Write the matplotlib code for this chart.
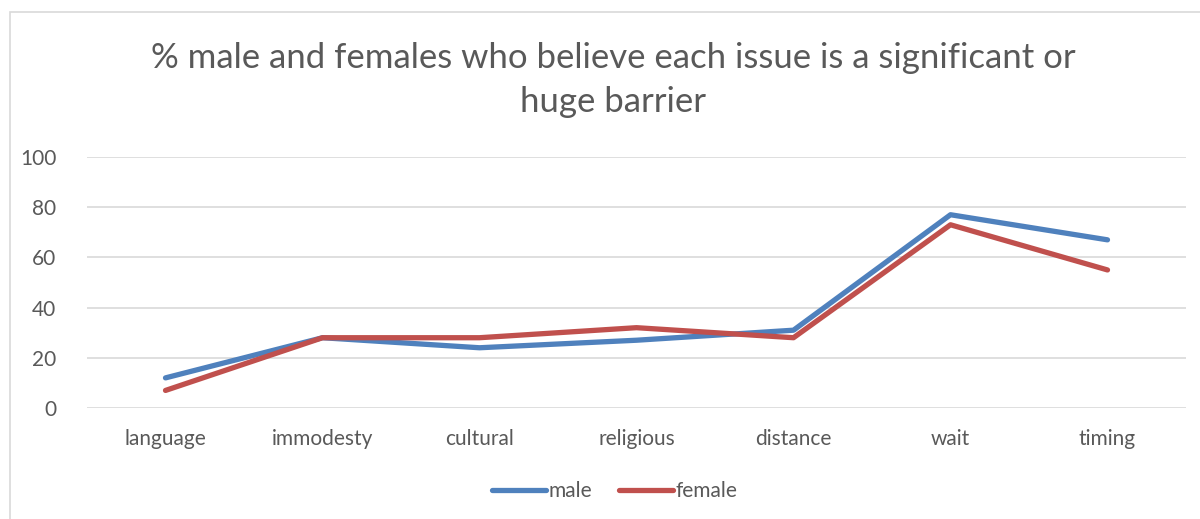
import matplotlib
matplotlib.use("Agg")
import matplotlib.pyplot as plt
from matplotlib.patches import Rectangle

categories = ["language", "immodesty", "cultural", "religious", "distance", "wait", "timing"]
male = [12, 28, 24, 27, 31, 77, 67]
female = [7, 28, 28, 32, 28, 73, 55]
y_ticks = [0, 20, 40, 60, 80, 100]

TEXT = "#595959"
GRID = "#d9d9d9"
plt.rcParams["font.family"] = ["Lato", "DejaVu Sans"]

fig = plt.figure(figsize=(12, 5.19), dpi=100)
fig.patches.append(Rectangle((10 / 1200, -0.1), 1.2, 1 - 12 / 519 + 0.1,
                             transform=fig.transFigure, fill=False,
                             edgecolor=GRID, linewidth=1.2))

ax = fig.add_axes([87 / 1200, 1 - 408 / 519, (1186 - 87) / 1200, (408 - 157) / 519])
x = range(len(categories))
ax.plot(x, male, color="#4f81bd", linewidth=3.8, solid_capstyle="round",
        solid_joinstyle="round", label="male", zorder=3)
ax.plot(x, female, color="#c0504d", linewidth=3.8, solid_capstyle="round",
        solid_joinstyle="round", label="female", zorder=3)

ax.set_xlim(-0.5, len(categories) - 0.5)
ax.set_ylim(0, 100)
ax.set_yticks(y_ticks)
ax.set_xticks(list(x), categories)
ax.grid(axis="y", color=GRID, linewidth=1.2)
ax.set_axisbelow(True)
for side in ("top", "right", "left", "bottom"):
    ax.spines[side].set_visible(False)
ax.tick_params(length=0, labelsize=15, labelcolor=TEXT)
ax.tick_params(axis="x", pad=15)
ax.tick_params(axis="y", pad=22)

fig.text(0.511, 1 - 80 / 519,
         "% male and females who believe each issue is a significant or\nhuge barrier",
         ha="center", va="center", fontsize=25, color=TEXT, linespacing=1.45)

fig.legend(loc="center", bbox_to_anchor=(0.512, 1 - 491 / 519), ncol=2,
           frameon=False, fontsize=15, labelcolor=TEXT, handlelength=2.6,
           handletextpad=0.1, columnspacing=1.3)

fig.savefig("out.png", dpi=100)
